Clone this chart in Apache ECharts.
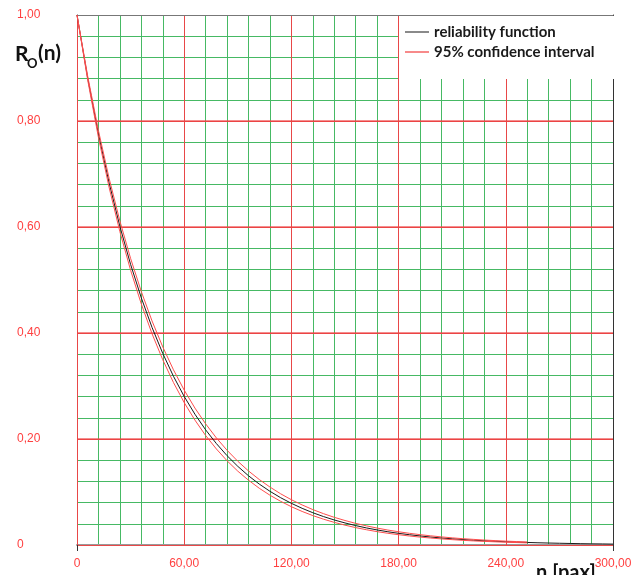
<!DOCTYPE html>
<html>
<head>
<meta charset="utf-8">
<script src="https://cdn.jsdelivr.net/npm/echarts@6/dist/echarts.min.js"></script>
<style>html,body{margin:0;padding:0;background:#fff}#c{width:642px;height:575px}</style>
</head>
<body>
<div id="c"></div>
<script>
// n values (pax) sampled every 6
const nValues = [0,6,12,18,24,30,36,42,48,54,60,66,72,78,84,90,96,102,108,114,120,126,132,138,144,150,156,162,168,174,180,186,192,198,204,210,216,222,228,234,240,246,252,258,264,270,276,282,288,294,300];
// reliability function R_O(n)
const reliability = [1.000,0.8806,0.7754,0.6828,0.6012,0.5294,0.4662,0.4105,0.3615,0.3183,0.2803,0.2468,0.2173,0.1914,0.1685,0.1484,0.1306,0.1150,0.1013,0.0892,0.0786,0.0692,0.0609,0.0536,0.0472,0.0416,0.0366,0.0322,0.0284,0.0250,0.0220,0.0194,0.0171,0.0150,0.0132,0.0117,0.0103,0.0090,0.0080,0.0070,0.0062,0.0054,0.0048,0.0042,0.0037,0.0033,0.0029,0.0025,0.0022,0.0020,0.0017];
// 95% confidence interval bounds (drawn up to n = 252)
const ciUpper = [1.000,0.8843,0.7819,0.6914,0.6114,0.5407,0.4781,0.4227,0.3738,0.3305,0.2923,0.2584,0.2286,0.2021,0.1787,0.1580,0.1397,0.1236,0.1093,0.0966,0.0854,0.0756,0.0668,0.0591,0.0522,0.0462,0.0408,0.0361,0.0319,0.0282,0.0250,0.0221,0.0195,0.0173,0.0153,0.0135,0.0119,0.0106,0.0093,0.0083,0.0073,0.0065,0.0057];
const ciLower = [1.000,0.8769,0.7689,0.6742,0.5912,0.5184,0.4546,0.3986,0.3495,0.3065,0.2687,0.2357,0.2066,0.1812,0.1589,0.1393,0.1222,0.1071,0.0939,0.0824,0.0722,0.0633,0.0555,0.0487,0.0427,0.0374,0.0328,0.0288,0.0252,0.0221,0.0194,0.0170,0.0149,0.0131,0.0115,0.0101,0.0088,0.0077,0.0068,0.0060,0.0052,0.0046,0.0040];
const seriesNames = ['reliability function', '95% confidence interval'];
const yTitle = ['R', 'O', '(n)'];
const xTitle = 'n [pax]';
// red major horizontal grid values
const yMajorGrid = [0.2, 0.4, 0.6, 0.8];

// axis scale: major (labelled, red grid) and minor (green grid) steps
const xMajor = 60, xMinor = 12;
const yMajor = 0.2, yMinor = 0.04;

const isMajor = (v, step) => Math.abs(v / step - Math.round(v / step)) < 1e-6;
const fmtX = v => isMajor(v, xMajor) ? (v === 0 ? '0' : v.toFixed(2).replace('.', ',')) : '';
const fmtY = v => isMajor(v, yMajor) ? (Math.abs(v) < 1e-9 ? '0' : v.toFixed(2).replace('.', ',')) : '';
const pairs = arr => arr.map((v, i) => [nValues[i], v]);

const chart = echarts.init(document.getElementById('c'), null, {renderer: 'canvas'});
const boldFont = 'Lato, "Noto Sans", sans-serif';
const labelFont = '"Liberation Sans", Arial, sans-serif';
const redGrid = '#e84848';
const greenGrid = '#46b964';

chart.setOption({
  animation: false,
  backgroundColor: '#fff',
  grid: {left: 77, right: 29, top: 15, bottom: 30, containLabel: false},
  legend: {
    orient: 'vertical',
    left: 399, top: 16,
    padding: [7, 60, 18, 6],
    icon: 'rect',
    itemWidth: 24, itemHeight: 2, itemGap: 2,
    backgroundColor: '#fff',
    textStyle: {fontFamily: boldFont, fontWeight: 'bold', fontSize: 15, lineHeight: 18, color: '#1a1a1a'},
    data: [
      {name: seriesNames[0], itemStyle: {color: '#8a8a8a'}},
      {name: seriesNames[1], itemStyle: {color: '#f78a8a'}}
    ]
  },
  xAxis: [{
    type: 'value', min: 0, max: 300, interval: xMinor, position: 'bottom', z: 0,
    axisLine: {show: true, onZero: false, lineStyle: {color: '#9a9a9a', width: 2}},
    axisTick: {show: false},
    axisLabel: {formatter: fmtX, color: '#ff4040', fontSize: 12, fontFamily: labelFont, margin: 13, showMinLabel: true, showMaxLabel: true, hideOverlap: false},
    splitLine: {show: true, lineStyle: {color: greenGrid, width: 1}}
  }, {
    type: 'value', min: 0, max: 300, interval: xMajor, position: 'top', z: 1,
    axisLine: {show: true, onZero: false, lineStyle: {color: '#777', width: 1}},
    axisTick: {show: false}, axisLabel: {show: false},
    splitLine: {show: true, lineStyle: {color: redGrid, width: 1}}
  }, {
    type: 'value', min: 0, max: 300, interval: 300, position: 'bottom', z: 1,
    axisLine: {show: false},
    axisTick: {show: true, length: 6, lineStyle: {color: '#333', width: 1}},
    axisLabel: {show: false}, splitLine: {show: false}
  }],
  yAxis: [{
    type: 'value', min: 0, max: 1, interval: yMinor, position: 'left', z: 0,
    axisLine: {show: true, onZero: false, lineStyle: {color: '#333', width: 1}},
    axisTick: {show: false},
    axisLabel: {formatter: fmtY, color: '#ff4040', fontSize: 12, fontFamily: labelFont, align: 'left', margin: 60, hideOverlap: false},
    splitLine: {show: true, lineStyle: {color: greenGrid, width: 1}}
  }, {
    type: 'value', min: 0, max: 1, interval: yMajor, position: 'right', z: 1,
    axisLine: {show: true, onZero: false, lineStyle: {color: '#333', width: 1}},
    axisTick: {show: false}, axisLabel: {show: false},
    splitLine: {show: true, lineStyle: {color: redGrid, width: 1}}
  }],
  series: [
    {name: seriesNames[0], type: 'line', data: pairs(reliability), symbol: 'none', smooth: false,
     lineStyle: {color: '#1a1a1a', width: 1}, itemStyle: {color: '#1a1a1a'}, z: 3,
     markLine: {silent: true, symbol: 'none', label: {show: false}, animation: false, z: 1,
       lineStyle: {color: '#ee4444', width: 1.5, type: 'solid', opacity: 0.8},
       emphasis: {disabled: true},
       data: yMajorGrid.map(v => ({yAxis: v}))}},
    {name: seriesNames[1], type: 'line', data: pairs(ciUpper), symbol: 'none', smooth: false,
     lineStyle: {color: '#ff4d4d', width: 1}, itemStyle: {color: '#ff4d4d'}, z: 4},
    {name: seriesNames[1], type: 'line', data: pairs(ciLower), symbol: 'none', smooth: false,
     lineStyle: {color: '#ff4d4d', width: 1}, itemStyle: {color: '#ff4d4d'}, z: 4}
  ],
  graphic: [
    {type: 'text', left: 15, top: 44, style: {text: yTitle[0], font: 'bold 21px ' + boldFont, fill: '#111'}},
    {type: 'text', left: 27, top: 57, style: {text: yTitle[1], font: 'bold 13px ' + boldFont, fill: '#111'}},
    {type: 'text', left: 38, top: 43, style: {text: yTitle[2], font: 'bold 21px ' + boldFont, fill: '#111'}},
    {type: 'text', left: 536, top: 563, style: {text: xTitle, font: 'bold 20px ' + boldFont, fill: '#111'}}
  ]
});
</script>
</body>
</html>
